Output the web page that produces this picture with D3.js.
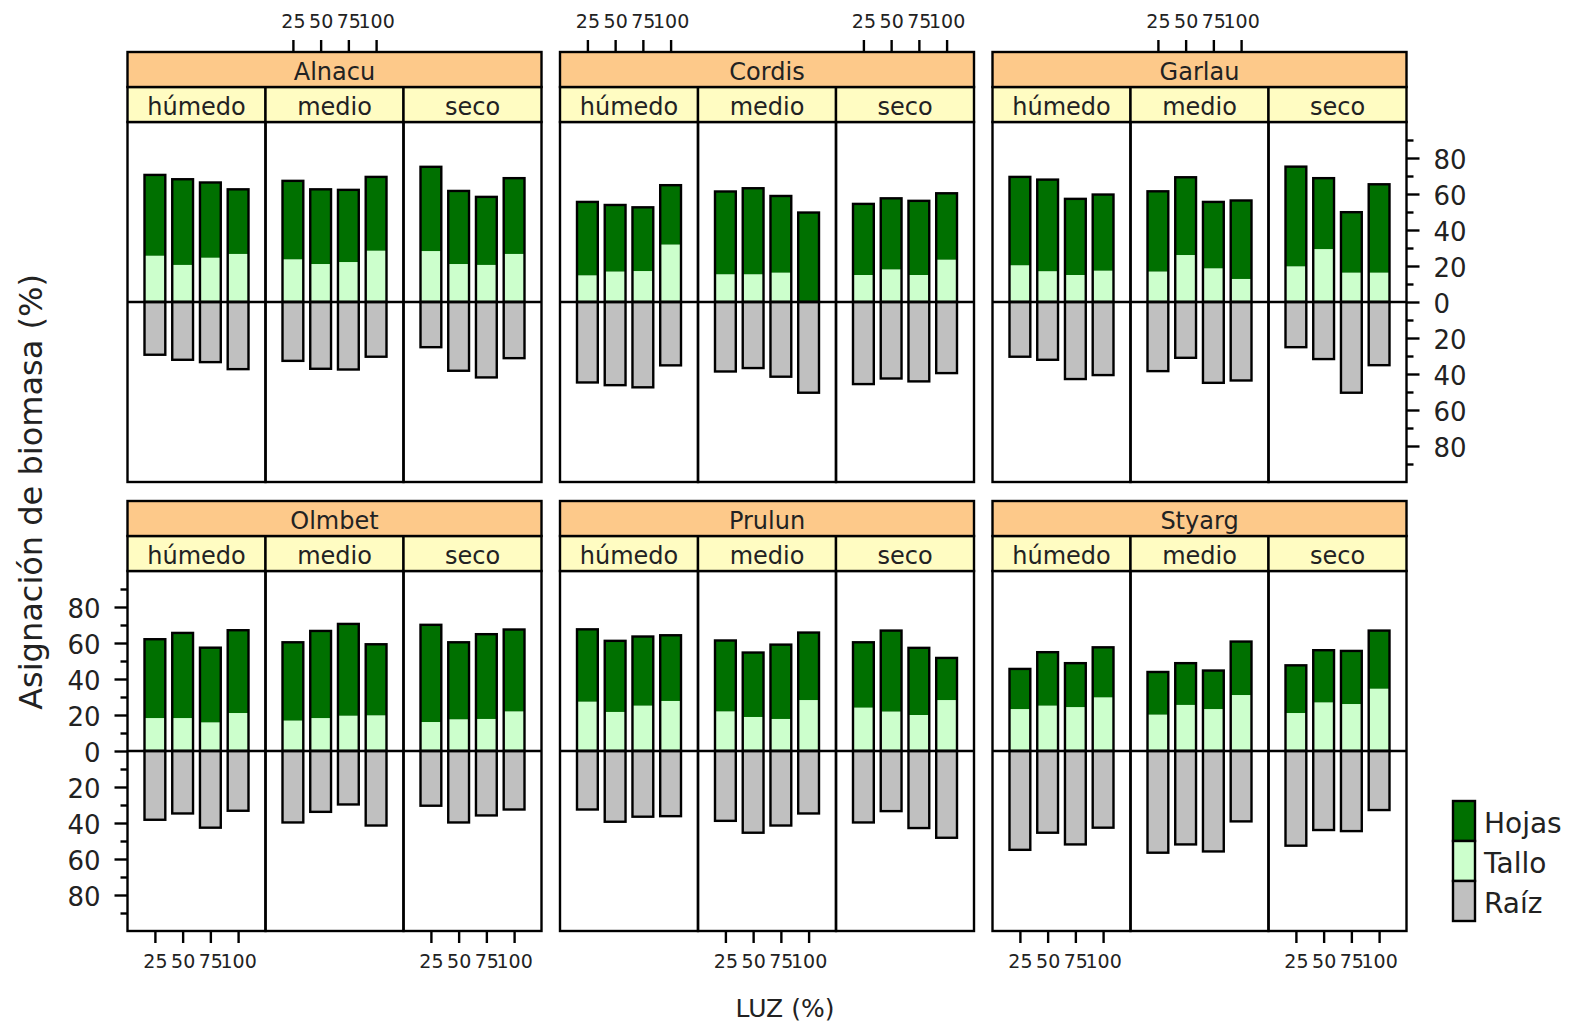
<!DOCTYPE html>
<html><head><meta charset="utf-8">
<script src="https://cdn.jsdelivr.net/npm/d3@7"></script>
<style>
body{margin:0;background:#fff}
text{font-family:"DejaVu Sans",sans-serif;fill:#222}
</style>
</head><body>
<svg id="c" width="1569" height="1028"></svg>
<script>
const species = ["Alnacu","Cordis","Garlau","Olmbet","Prulun","Styarg"];
const humedad = ["húmedo","medio","seco"];
const luz = [25,50,75,100];
// each row: húmedo (25,50,75,100), medio (25..100), seco (25..100)
const tallo = [
  [25.7,20.6,24.6,26.7, 23.7,21.1,22.2,28.5, 28.3,21.1,20.6,26.7],
  [14.8,16.9,17.2,31.9, 15.4,15.4,16.3,0.0, 15.0,18.1,15.0,23.5],
  [20.4,17.1,15.0,17.4, 16.9,26.1,18.7,12.8, 19.8,29.4,16.3,16.3],
  [18.3,18.3,15.9,21.1, 16.9,18.3,19.6,19.8, 16.1,17.6,17.8,22.0],
  [27.4,21.7,25.2,27.8, 22.0,18.9,17.8,28.3, 24.1,21.9,20.0,28.3],
  [23.3,25.2,24.4,29.8, 20.2,25.6,23.3,31.1, 21.1,27.0,26.1,34.6]
];
const hojas = [
  [44.9,47.6,41.8,35.9, 43.6,41.5,40.1,41.0, 46.8,40.6,37.8,42.1],
  [40.8,37.0,35.4,33.0, 46.0,47.8,42.6,49.7, 39.5,39.5,41.2,36.9],
  [49.1,50.9,42.3,42.3, 44.6,43.2,36.9,43.6, 55.4,39.4,33.6,49.1],
  [43.8,47.3,41.5,46.0, 43.5,48.4,51.0,39.5, 54.0,42.8,47.1,45.5],
  [40.2,39.5,38.4,36.5, 39.4,35.8,41.3,37.5, 36.3,45.0,37.3,23.4],
  [22.3,29.7,24.4,27.8, 23.7,23.2,21.4,29.7, 26.5,29.0,29.5,32.3]
];
const raiz = [
  [29.3,32.1,33.4,37.3, 32.7,37.1,37.5,30.4, 25.1,38.2,41.9,31.2],
  [44.7,46.2,47.4,35.2, 38.6,36.7,41.5,50.4, 45.6,42.5,44.1,39.5],
  [30.4,32.1,42.8,40.6, 38.4,31.0,44.9,43.6, 25.1,31.7,50.4,35.1],
  [38.2,34.7,42.6,33.2, 39.7,33.8,29.7,41.4, 30.4,39.7,35.8,32.5],
  [32.5,39.3,36.5,36.2, 38.8,45.4,41.4,34.7, 39.7,33.4,42.8,48.2],
  [54.9,45.4,51.9,42.6, 56.5,51.9,55.8,39.1, 52.6,43.9,44.5,32.8]
];
const yMajor = [-80,-60,-40,-20,0,20,40,60,80];
const yMinor = [-90,-70,-50,-30,-10,10,30,50,70,90];
const legendLabels = ["Hojas","Tallo","Raíz"];
const legendColors = ["#007000","#ccffcc","#c0c0c0"];

const svg = d3.select("#c");
const panelX = [127.5, 560, 992.5], panelW = 414, rowTop = [52, 501], stripH = 35, plotH = 360;
const subW = panelW/3;
const LW = 2.4;
const cHojas = legendColors[0], cTallo = legendColors[1], cRaiz = legendColors[2];

function styleAxis(g, fs){
  g.select(".domain").remove();
  g.selectAll(".tick line").attr("stroke","#000").attr("stroke-width",LW);
  g.selectAll(".tick text").attr("font-size",fs).attr("fill","#222").attr("font-family","DejaVu Sans");
}

species.forEach((sp, s) => {
  const row = Math.floor(s/3), col = s%3;
  const px = panelX[col], top = rowTop[row], plotTop = top + 2*stripH;
  const y = d3.scaleLinear().domain([-100,100]).range([plotTop+plotH, plotTop]);
  const g = svg.append("g");
  humedad.forEach((hm, h) => {
    const sx = px + h*subW;
    const c = col*3 + h;
    const x = d3.scaleLinear().domain([0.3,124.7]).range([sx, sx+subW]);
    const bw = x(9.375) - x(-9.375);
    luz.forEach((v, i) => {
      const k = h*4 + i;
      const t = tallo[s][k], hj = hojas[s][k], r = raiz[s][k];
      const bx = x(v) - bw/2;
      g.append("rect").attr("x",bx).attr("width",bw).attr("y",y(t)).attr("height",y(0)-y(t)).attr("fill",cTallo);
      g.append("rect").attr("x",bx).attr("width",bw).attr("y",y(t+hj)).attr("height",y(t)-y(t+hj)).attr("fill",cHojas);
      g.append("rect").attr("x",bx).attr("width",bw).attr("y",y(t+hj)).attr("height",y(0)-y(t+hj)).attr("fill","none").attr("stroke","#000").attr("stroke-width",LW);
      g.append("rect").attr("x",bx).attr("width",bw).attr("y",y(0)).attr("height",y(-r)-y(0)).attr("fill",cRaiz).attr("stroke","#000").attr("stroke-width",LW);
    });
    g.append("line").attr("x1",sx).attr("x2",sx+subW).attr("y1",y(0)).attr("y2",y(0)).attr("stroke","#000").attr("stroke-width",LW);
    g.append("rect").attr("x",sx).attr("y",plotTop).attr("width",subW).attr("height",plotH).attr("fill","none").attr("stroke","#000").attr("stroke-width",LW);
    // sub strip
    g.append("rect").attr("x",sx).attr("y",top+stripH).attr("width",subW).attr("height",stripH).attr("fill","#fffcc2").attr("stroke","#000").attr("stroke-width",LW);
    g.append("text").attr("x",sx+subW/2).attr("y",top+stripH*1.5+2.5).attr("text-anchor","middle").attr("dominant-baseline","central").attr("font-size",24).text(hm);
    // x axes (alternating)
    if (row===1 && c%2===0){
      const ax = svg.append("g").attr("transform",`translate(0,${plotTop+plotH})`)
        .call(d3.axisBottom(x).tickValues(luz).tickSize(12).tickPadding(12));
      styleAxis(ax, 19);
    }
    if (row===0 && c%2===1){
      const ax = svg.append("g").attr("transform",`translate(0,${top})`)
        .call(d3.axisTop(x).tickValues(luz).tickSize(12).tickPadding(12));
      styleAxis(ax, 19);
    }
  });
  // header strip
  g.append("rect").attr("x",px).attr("y",top).attr("width",panelW).attr("height",stripH).attr("fill","#fdc98a").attr("stroke","#000").attr("stroke-width",LW);
  g.append("text").attr("x",px+panelW/2).attr("y",top+stripH/2+2.5).attr("text-anchor","middle").attr("dominant-baseline","central").attr("font-size",24).text(sp);
  // y axes
  if (row===0 && col===2){
    const a1 = svg.append("g").attr("transform",`translate(${px+panelW},0)`)
      .call(d3.axisRight(y).tickValues(yMajor).tickSize(13).tickPadding(14).tickFormat(d=>Math.abs(d)));
    styleAxis(a1, 26);
    a1.selectAll(".tick text").attr("dy","0.42em");
    const a2 = svg.append("g").attr("transform",`translate(${px+panelW},0)`)
      .call(d3.axisRight(y).tickValues(yMinor).tickSize(7).tickFormat(""));
    styleAxis(a2, 26);
  }
  if (row===1 && col===0){
    const a1 = svg.append("g").attr("transform",`translate(${px},0)`)
      .call(d3.axisLeft(y).tickValues(yMajor).tickSize(13).tickPadding(14).tickFormat(d=>Math.abs(d)));
    styleAxis(a1, 26);
    a1.selectAll(".tick text").attr("dy","0.42em");
    const a2 = svg.append("g").attr("transform",`translate(${px},0)`)
      .call(d3.axisLeft(y).tickValues(yMinor).tickSize(7).tickFormat(""));
    styleAxis(a2, 26);
  }
});

// legend
const lg = svg.append("g");
legendLabels.forEach((lab, i) => {
  const ly = 801 + i*40;
  lg.append("rect").attr("x",1453).attr("y",ly).attr("width",22).attr("height",40).attr("fill",legendColors[i]).attr("stroke","#000").attr("stroke-width",LW);
  lg.append("text").attr("x",1484).attr("y",ly+22).attr("dominant-baseline","central").attr("font-size",28).text(lab);
});

// titles
svg.append("text").attr("transform","translate(31,492) rotate(-90)").attr("text-anchor","middle").attr("dominant-baseline","central").attr("font-size",32).text("Asignación de biomasa (%)");
svg.append("text").attr("x",785).attr("y",1008).attr("text-anchor","middle").attr("dominant-baseline","central").attr("font-size",25).text("LUZ (%)");
</script>
</body></html>
